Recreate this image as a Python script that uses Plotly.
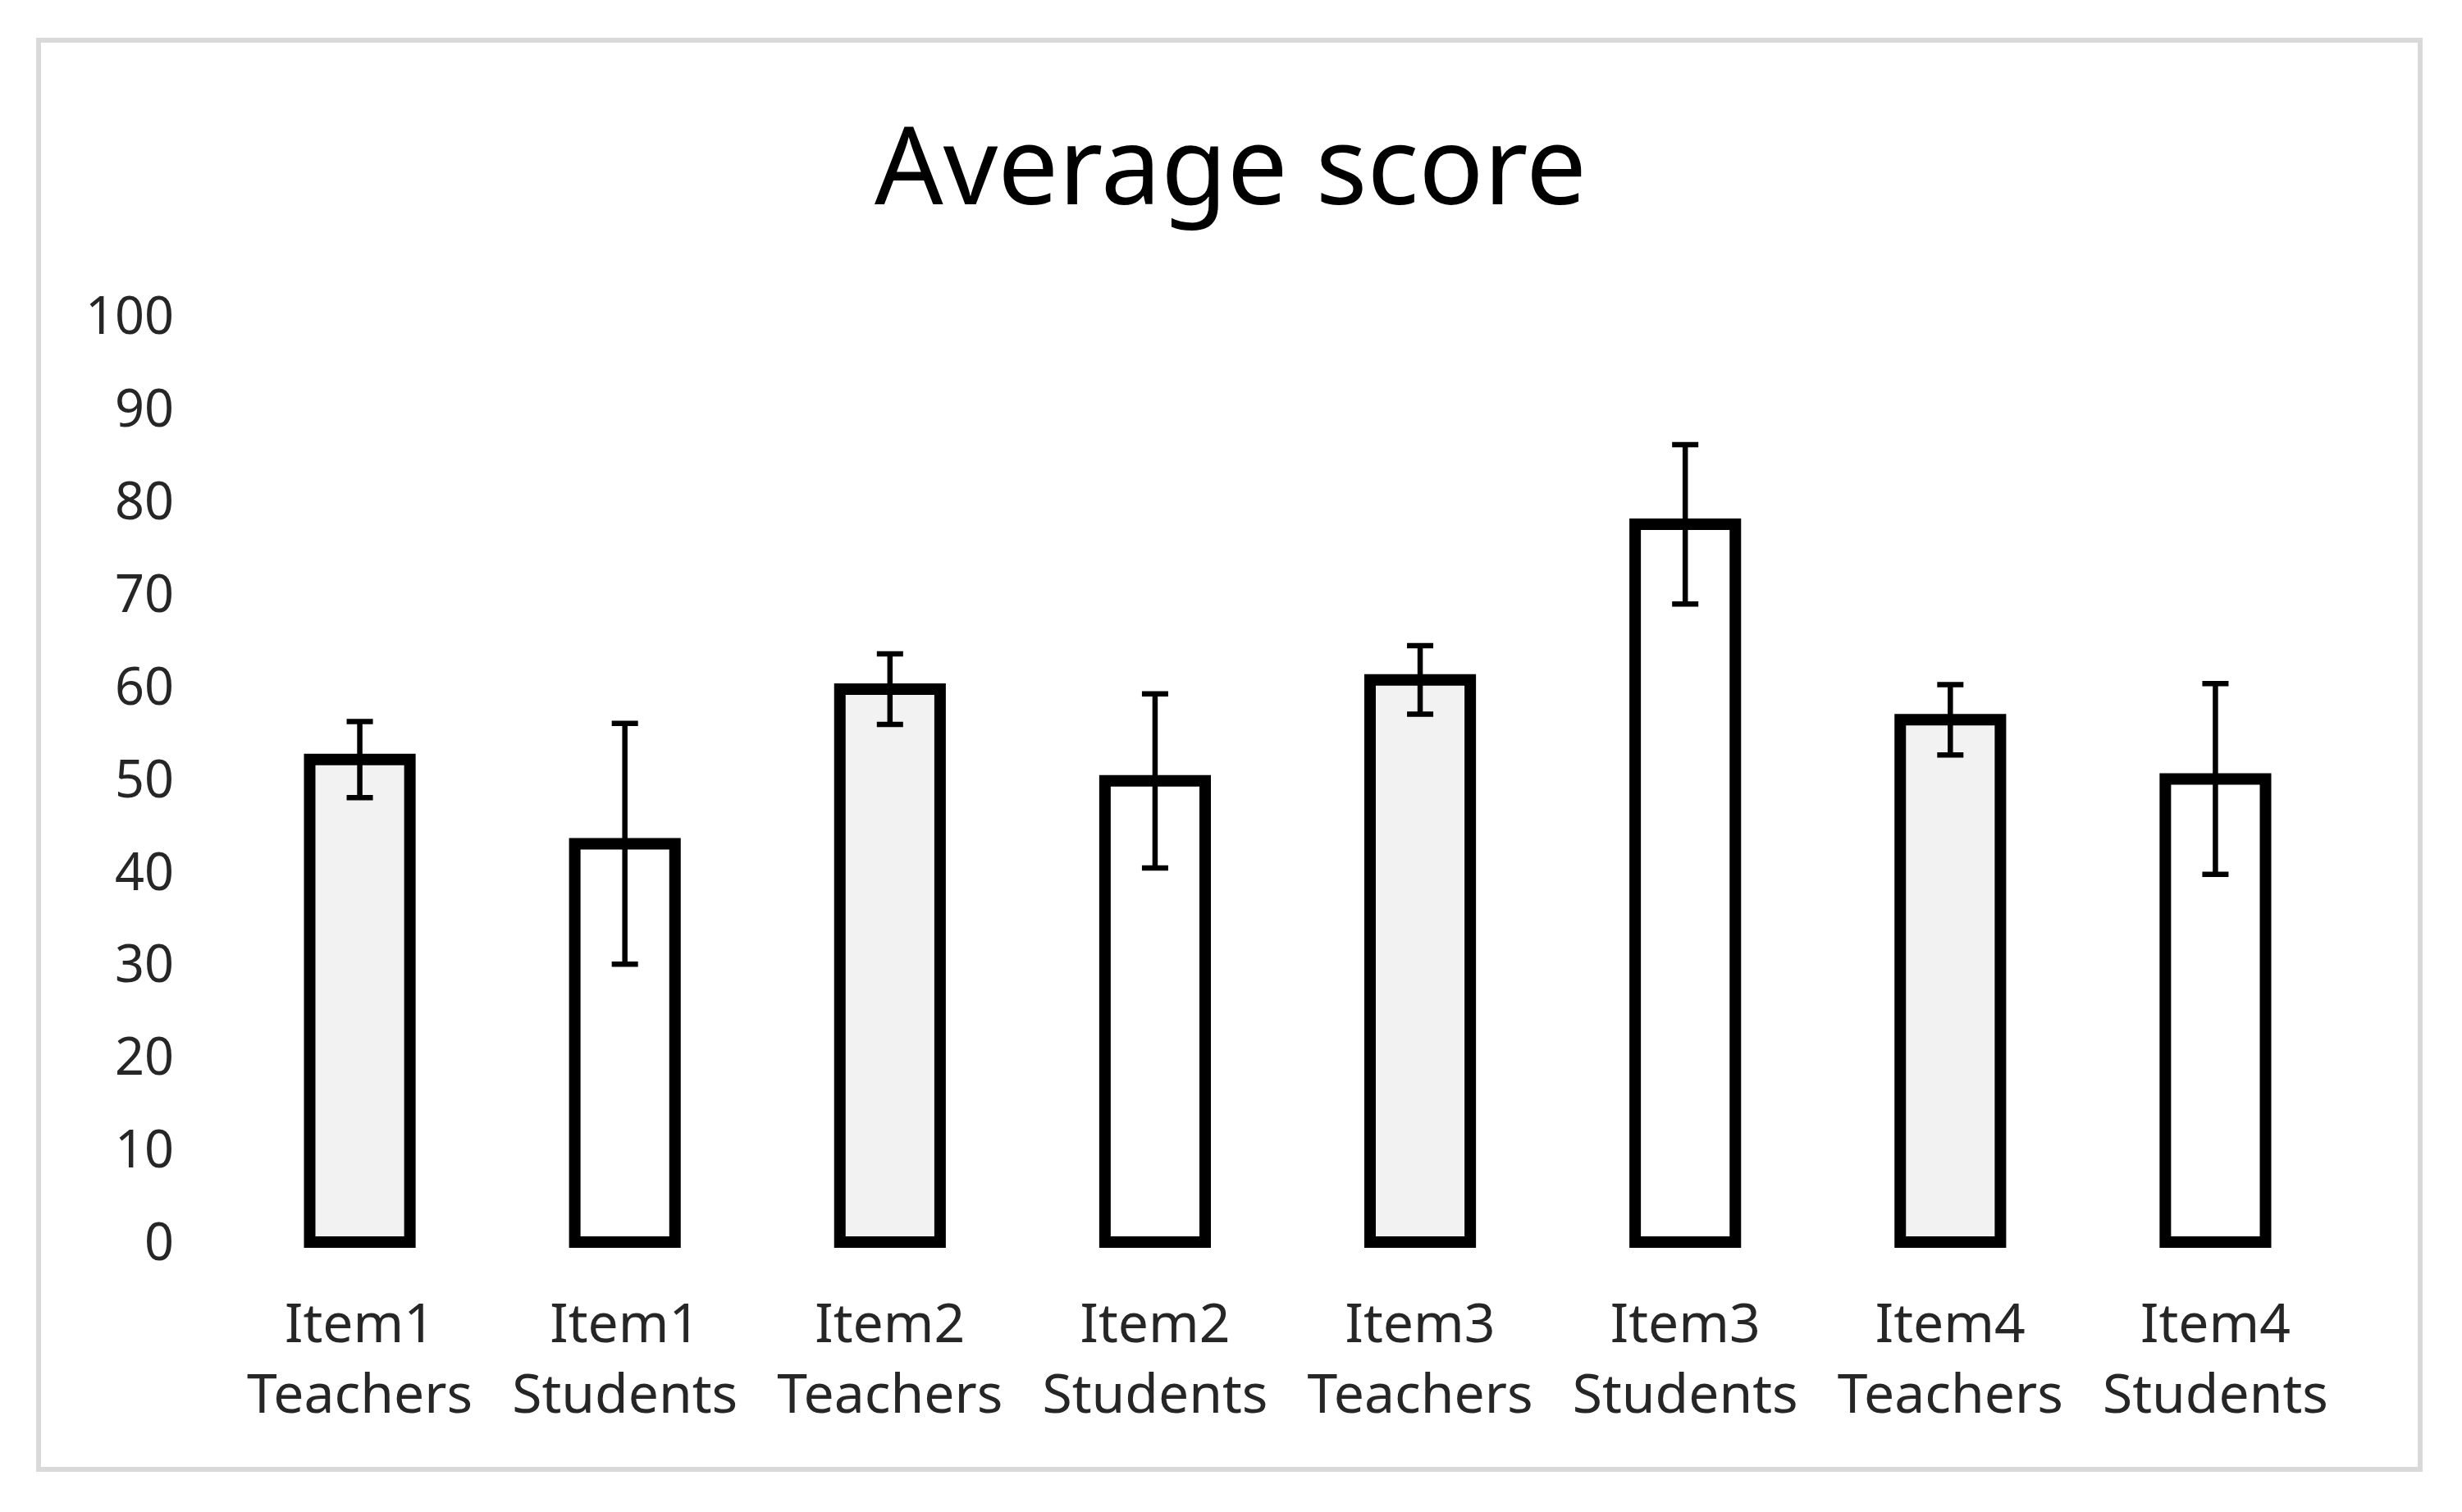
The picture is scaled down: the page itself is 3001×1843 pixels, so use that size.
import plotly.graph_objects as go

categories = ["Item1<br>Teachers", "Item1<br>Students", "Item2<br>Teachers", "Item2<br>Students",
              "Item3<br>Teachers", "Item3<br>Students", "Item4<br>Teachers", "Item4<br>Students"]
values = [52.1, 43.0, 59.7, 49.8, 60.7, 77.5, 56.4, 50.0]
errors = [4.1, 13.0, 3.8, 9.4, 3.7, 8.6, 3.8, 10.3]
fill_colors = ["#f2f2f2", "#ffffff", "#f2f2f2", "#ffffff", "#f2f2f2", "#ffffff", "#f2f2f2", "#ffffff"]
y_ticks = [0, 10, 20, 30, 40, 50, 60, 70, 80, 90, 100]

OFF = 8  # default page body margin
W, H = 3001 - 2 * OFF, 1843 - 2 * OFF
L, R = 277 - OFF, 2862 - OFF
T, B = 385 - OFF, 1522 - OFF
FONT = "Noto Sans"

fig = go.Figure()
fig.add_trace(go.Bar(
    x=list(range(len(categories))),
    y=values,
    width=0.378,
    marker=dict(color=fill_colors, line=dict(color="#000000", width=14)),
    error_y=dict(type="data", array=errors, visible=True, color="#000000", thickness=6.5, width=16),
    showlegend=False,
))

def px_to_paper_x(px):
    return (px - OFF - L) / (R - L)

def px_to_paper_y(py):
    return (B - (py - OFF)) / (B - T)

fig.update_layout(
    width=W, height=H,
    margin=dict(l=L, r=W - R, t=T, b=H - B, pad=0),
    paper_bgcolor="#ffffff",
    plot_bgcolor="#ffffff",
    title=dict(text="Average score", x=(1500 - OFF) / W, xanchor="center", xref="container",
               y=1 - (203 - OFF) / H, yanchor="middle", yref="container",
               font=dict(family=FONT, size=131, color="#000000")),
    xaxis=dict(
        tickmode="array", tickvals=list(range(len(categories))), ticktext=categories,
        range=[-0.5, len(categories) - 0.5],
        showgrid=False, zeroline=False, showline=False, ticks="",
        ticklabelstandoff=47,
        tickfont=dict(family=FONT, size=66, color="#262626"),
    ),
    yaxis=dict(
        range=[-0.7, 100], tickmode="array", tickvals=y_ticks,
        showgrid=False, zeroline=False, showline=False, ticks="",
        ticklabelstandoff=64,
        tickfont=dict(family=FONT, size=63, color="#262626"),
    ),
    shapes=[dict(type="rect", xref="paper", yref="paper",
                 x0=px_to_paper_x(47), x1=px_to_paper_x(2950),
                 y0=px_to_paper_y(1791), y1=px_to_paper_y(49),
                 line=dict(color="#d9d9d9", width=6), fillcolor="rgba(0,0,0,0)", layer="below")],
)

fig.write_html("out.html")
